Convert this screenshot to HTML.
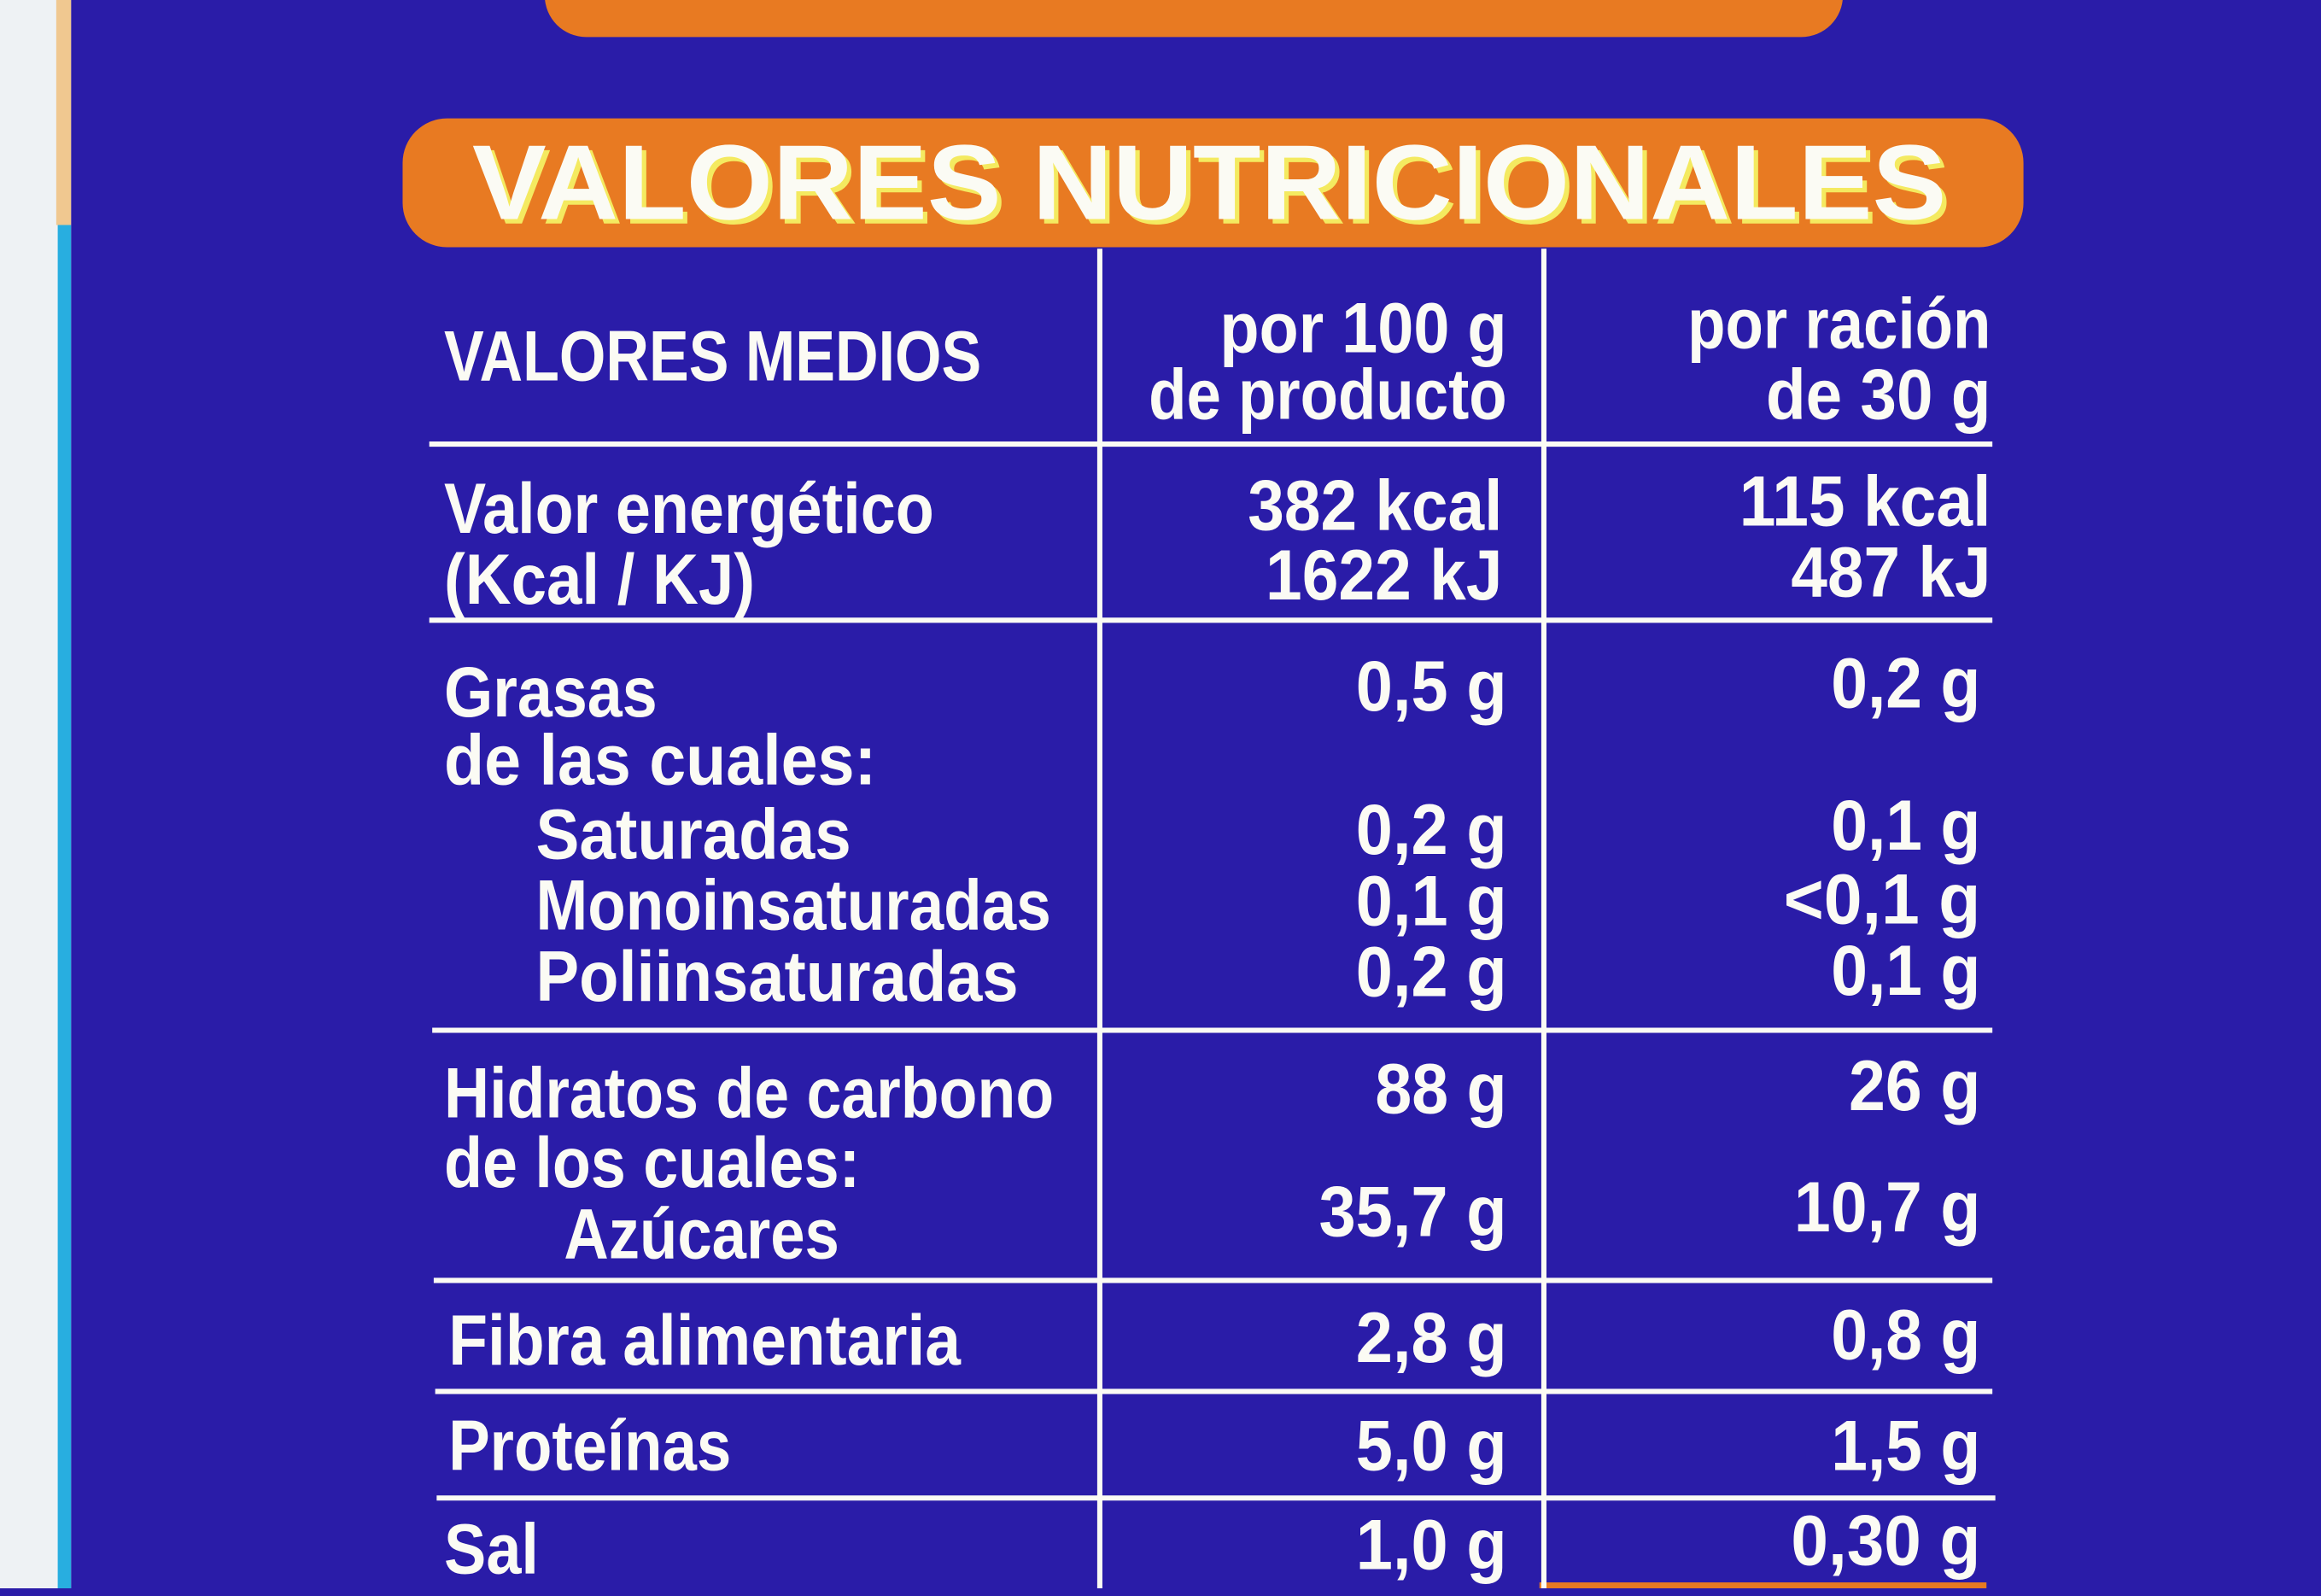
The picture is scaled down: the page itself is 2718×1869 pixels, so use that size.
<!DOCTYPE html>
<html><head><meta charset="utf-8"><style>
html,body{margin:0;padding:0;background:#2a1ca8;overflow:hidden}
#wrap{width:1568px;height:1073px;transform:scale(1.73342,1.73346);transform-origin:0 0;position:absolute;left:0;top:0}
svg text{font-family:"Liberation Sans",sans-serif;font-weight:bold;fill:#fbfbf4}
</style></head><body><div id="wrap">
<svg width="1568" height="1073" viewBox="0 0 1568 1073" xmlns="http://www.w3.org/2000/svg">
<rect x="0" y="0" width="1568" height="1073" fill="#2a1ca8"/>
<rect x="0" y="0" width="48" height="1073" fill="#eef2f4"/>
<rect x="38" y="0" width="10" height="152" fill="#f0c890"/>
<rect x="39" y="152" width="9" height="921" fill="#28aee0"/>
<rect x="368" y="-40" width="877" height="65" rx="28" fill="#e87a22"/>
<rect x="272" y="80" width="1095" height="87" rx="30" fill="#e87a22"/>
<text x="322" y="151" font-size="72" textLength="996" lengthAdjust="spacingAndGlyphs" style="fill:#f4ea60">VALORES NUTRICIONALES</text>
<text x="319" y="148" font-size="72" textLength="996" lengthAdjust="spacingAndGlyphs">VALORES NUTRICIONALES</text>
<rect x="1040" y="1069" width="302" height="10" fill="#e87a22"/>
<g stroke="#fbfbf4" stroke-width="3.5">
<line x1="743" y1="168" x2="743" y2="1073"/>
<line x1="1043" y1="168" x2="1043" y2="1073"/>
<line x1="290" y1="300" x2="1346" y2="300"/>
<line x1="290" y1="419" x2="1346" y2="419"/>
<line x1="292" y1="696" x2="1346" y2="696"/>
<line x1="293" y1="865" x2="1346" y2="865"/>
<line x1="294" y1="940" x2="1346" y2="940"/>
<line x1="295" y1="1012" x2="1348" y2="1012"/>
</g>
<g font-size="48">
<text x="300" y="257" textLength="363" lengthAdjust="spacingAndGlyphs">VALORES MEDIOS</text>
<text x="824" y="238" textLength="194" lengthAdjust="spacingAndGlyphs">por 100 g</text>
<text x="776" y="283" textLength="242" lengthAdjust="spacingAndGlyphs">de producto</text>
<text x="1140" y="235" textLength="205" lengthAdjust="spacingAndGlyphs">por ración</text>
<text x="1193" y="283" textLength="152" lengthAdjust="spacingAndGlyphs">de 30 g</text>
<text x="300" y="360" textLength="331" lengthAdjust="spacingAndGlyphs">Valor energético</text>
<text x="300" y="408" textLength="210" lengthAdjust="spacingAndGlyphs">(Kcal / KJ)</text>
<text x="843" y="358" textLength="172" lengthAdjust="spacingAndGlyphs">382 kcal</text>
<text x="855" y="405" textLength="160" lengthAdjust="spacingAndGlyphs">1622 kJ</text>
<text x="1175" y="355" textLength="170" lengthAdjust="spacingAndGlyphs">115 kcal</text>
<text x="1210" y="403" textLength="135" lengthAdjust="spacingAndGlyphs">487 kJ</text>
<text x="300" y="484" textLength="144" lengthAdjust="spacingAndGlyphs">Grasas</text>
<text x="300" y="530" textLength="292" lengthAdjust="spacingAndGlyphs">de las cuales:</text>
<text x="362" y="580" textLength="213" lengthAdjust="spacingAndGlyphs">Saturadas</text>
<text x="362" y="628" textLength="348" lengthAdjust="spacingAndGlyphs">Monoinsaturadas</text>
<text x="362" y="676" textLength="326" lengthAdjust="spacingAndGlyphs">Poliinsaturadas</text>
<text x="916" y="480" textLength="102" lengthAdjust="spacingAndGlyphs">0,5 g</text>
<text x="1237" y="478" textLength="101" lengthAdjust="spacingAndGlyphs">0,2 g</text>
<text x="916" y="577" textLength="102" lengthAdjust="spacingAndGlyphs">0,2 g</text>
<text x="1237" y="574" textLength="101" lengthAdjust="spacingAndGlyphs">0,1 g</text>
<text x="916" y="625" textLength="102" lengthAdjust="spacingAndGlyphs">0,1 g</text>
<text x="1205" y="624" textLength="133" lengthAdjust="spacingAndGlyphs">&lt;0,1 g</text>
<text x="916" y="673" textLength="102" lengthAdjust="spacingAndGlyphs">0,2 g</text>
<text x="1237" y="672" textLength="101" lengthAdjust="spacingAndGlyphs">0,1 g</text>
<text x="300" y="755" textLength="412" lengthAdjust="spacingAndGlyphs">Hidratos de carbono</text>
<text x="300" y="802" textLength="281" lengthAdjust="spacingAndGlyphs">de los cuales:</text>
<text x="381" y="850" textLength="186" lengthAdjust="spacingAndGlyphs">Azúcares</text>
<text x="929" y="752" textLength="89" lengthAdjust="spacingAndGlyphs">88 g</text>
<text x="1249" y="750" textLength="89" lengthAdjust="spacingAndGlyphs">26 g</text>
<text x="891" y="835" textLength="127" lengthAdjust="spacingAndGlyphs">35,7 g</text>
<text x="1212" y="832" textLength="126" lengthAdjust="spacingAndGlyphs">10,7 g</text>
<text x="303" y="922" textLength="346" lengthAdjust="spacingAndGlyphs">Fibra alimentaria</text>
<text x="916" y="920" textLength="102" lengthAdjust="spacingAndGlyphs">2,8 g</text>
<text x="1237" y="918" textLength="101" lengthAdjust="spacingAndGlyphs">0,8 g</text>
<text x="303" y="993" textLength="191" lengthAdjust="spacingAndGlyphs">Proteínas</text>
<text x="916" y="993" textLength="102" lengthAdjust="spacingAndGlyphs">5,0 g</text>
<text x="1237" y="993" textLength="101" lengthAdjust="spacingAndGlyphs">1,5 g</text>
<text x="300" y="1063" textLength="64" lengthAdjust="spacingAndGlyphs">Sal</text>
<text x="916" y="1060" textLength="102" lengthAdjust="spacingAndGlyphs">1,0 g</text>
<text x="1210" y="1057" textLength="128" lengthAdjust="spacingAndGlyphs">0,30 g</text>
</g>
</svg></div></body></html>
